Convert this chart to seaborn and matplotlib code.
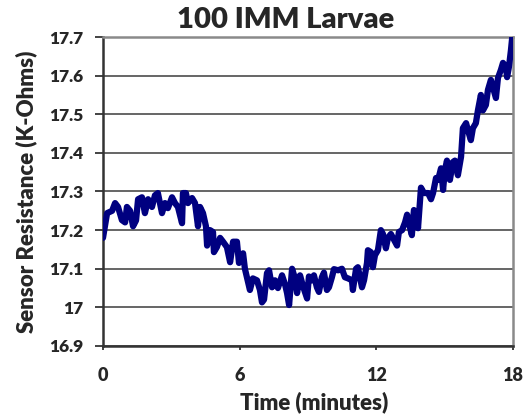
import matplotlib
matplotlib.use("Agg")
import matplotlib.pyplot as plt
import seaborn as sns
import pandas as pd

title = "100 IMM Larvae"
x_label = "Time (minutes)"
y_label = "Sensor Resistance (K-Ohms)"
x_ticks = [0, 6, 12, 18]
y_ticks = [16.9, 17.0, 17.1, 17.2, 17.3, 17.4, 17.5, 17.6, 17.7]
y_tick_labels = ["16.9", "17", "17.1", "17.2", "17.3", "17.4", "17.5", "17.6", "17.7"]

time_min = [
    0.00, 0.18, 0.40, 0.53, 0.66, 0.83, 0.97, 1.05, 1.19, 1.32, 1.45, 1.54, 1.71, 1.84, 1.98,
    2.15, 2.28, 2.41, 2.59, 2.72, 2.85, 3.03, 3.16, 3.29, 3.47, 3.51, 3.64, 3.73, 3.91, 4.04,
    4.17, 4.26, 4.39, 4.52, 4.57, 4.70, 4.83, 4.87, 5.00, 5.14, 5.27, 5.44, 5.58, 5.71, 5.88,
    5.97, 6.15, 6.23, 6.32, 6.45, 6.58, 6.76, 6.89, 6.98, 7.07, 7.20, 7.29, 7.42, 7.55, 7.68,
    7.86, 7.99, 8.08, 8.17, 8.30, 8.43, 8.52, 8.65, 8.78, 8.96, 9.04, 9.17, 9.26, 9.39, 9.48,
    9.61, 9.70, 9.83, 9.92, 10.05, 10.14, 10.32, 10.49, 10.62, 10.76, 10.93, 10.97, 11.11, 11.19,
    11.37, 11.46, 11.59, 11.63, 11.76, 11.85, 11.94, 12.07, 12.20, 12.29, 12.42, 12.51, 12.64,
    12.73, 12.91, 12.99, 13.13, 13.26, 13.35, 13.43, 13.56, 13.65, 13.78, 13.83, 13.96, 14.09,
    14.27, 14.40, 14.49, 14.62, 14.71, 14.84, 14.93, 15.01, 15.10, 15.23, 15.36, 15.45, 15.58,
    15.72, 15.80, 15.94, 16.02, 16.15, 16.24, 16.37, 16.46, 16.59, 16.68, 16.81, 16.90, 17.03,
    17.12, 17.25, 17.34, 17.47, 17.56, 17.69, 17.74, 17.82, 17.91, 18.00,
]
resistance = [
    17.180, 17.244, 17.250, 17.270, 17.260, 17.226, 17.220, 17.260, 17.250, 17.210, 17.225, 17.280, 17.285, 17.244, 17.280,
    17.260, 17.290, 17.296, 17.244, 17.270, 17.257, 17.285, 17.270, 17.260, 17.218, 17.296, 17.296, 17.270, 17.283, 17.270,
    17.210, 17.260, 17.244, 17.210, 17.160, 17.200, 17.195, 17.143, 17.156, 17.180, 17.170, 17.156, 17.117, 17.170, 17.170,
    17.115, 17.140, 17.100, 17.078, 17.045, 17.075, 17.070, 17.045, 17.013, 17.020, 17.089, 17.096, 17.052, 17.070, 17.050,
    17.083, 17.060, 17.037, 17.006, 17.100, 17.075, 17.037, 17.083, 17.055, 17.023, 17.080, 17.070, 17.083, 17.052, 17.040,
    17.078, 17.090, 17.045, 17.052, 17.078, 17.099, 17.096, 17.100, 17.078, 17.075, 17.070, 17.045, 17.100, 17.104,
    17.052, 17.070, 17.115, 17.148, 17.143, 17.104, 17.135, 17.148, 17.200, 17.190, 17.153, 17.180, 17.190,
    17.180, 17.160, 17.195, 17.200, 17.220, 17.240, 17.218, 17.187, 17.252, 17.244, 17.205, 17.310, 17.296,
    17.296, 17.280, 17.296, 17.335, 17.330, 17.360, 17.304, 17.355, 17.380, 17.330, 17.376, 17.380, 17.342,
    17.390, 17.464, 17.477, 17.459, 17.433, 17.464, 17.477, 17.510, 17.550, 17.510, 17.524, 17.563, 17.589,
    17.570, 17.542, 17.594, 17.615, 17.633, 17.622, 17.596, 17.622, 17.666, 17.720,
]

df = pd.DataFrame({"Time": time_min, "Resistance": resistance})

sns.set_theme(style="white")
plt.rcParams["font.family"] = ["Lato", "DejaVu Sans"]
plt.rcParams["font.weight"] = "bold"

fig = plt.figure(figsize=(5.32, 4.17), dpi=100)
ax = fig.add_axes([103 / 532, 1 - 346 / 417, 410 / 532, 309 / 417])

for yv in y_ticks:
    ax.axhline(yv, color="#3c3c3c", lw=1.1, zorder=1)

sns.lineplot(data=df, x="Time", y="Resistance", ax=ax, color="#000080",
             lw=4.5, zorder=3, solid_joinstyle="round", solid_capstyle="round")

ax.set_xlim(0, 18)
ax.set_ylim(16.9, 17.7)
ax.set_xticks(x_ticks)
ax.set_xticklabels([str(v) for v in x_ticks], fontsize=13, fontweight="heavy")
ax.set_yticks(y_ticks)
ax.set_yticklabels(y_tick_labels, fontsize=12.5, fontweight="heavy")
ax.tick_params(axis="y", direction="out", length=6, width=1.2, color="#222222", pad=8, left=True)
ax.tick_params(axis="x", direction="out", length=3, width=1.2, color="#222222", pad=12, bottom=True)
ax.set_xlabel("")
ax.set_ylabel("")

for side in ["left", "bottom"]:
    ax.spines[side].set_color("#333333")
    ax.spines[side].set_linewidth(1.8)
for side in ["top", "right"]:
    ax.spines[side].set_color("#8a8a8a")
    ax.spines[side].set_linewidth(1.8)

fig.text(286 / 532, 1 - 28 / 417, title, ha="center", va="baseline",
         fontsize=21, fontweight="heavy")
fig.text(314 / 532, 1 - 409 / 417, x_label, ha="center", va="baseline",
         fontsize=16, fontweight="heavy")
fig.text(26 / 532, 1 - 192 / 417, y_label, ha="center", va="center",
         rotation=90, fontsize=16, fontweight="heavy")

fig.savefig("out.png", dpi=100)
